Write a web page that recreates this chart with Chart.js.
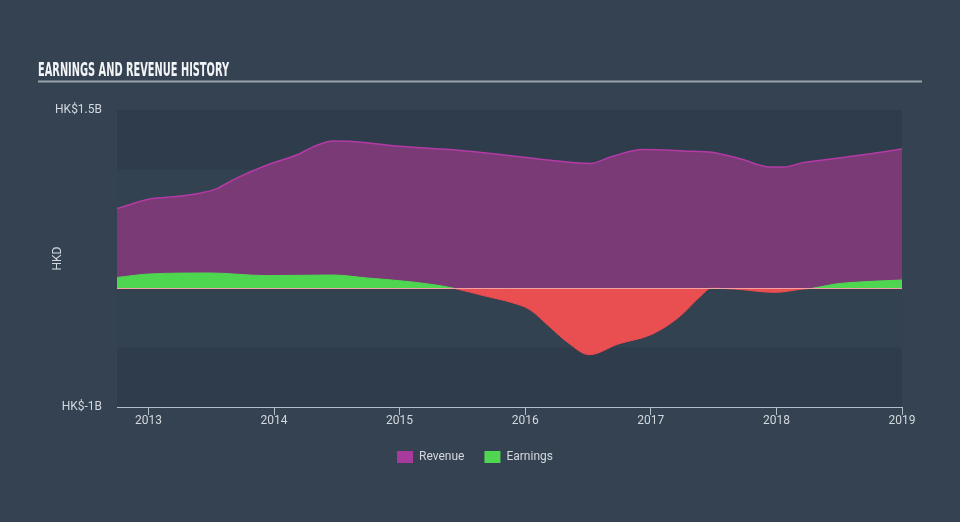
<!DOCTYPE html>
<html><head><meta charset="utf-8">
<script src="https://cdn.jsdelivr.net/npm/chart.js@4.4.0/dist/chart.umd.min.js"></script>
<style>html,body{margin:0;padding:0;background:#344251;}#wrap{position:relative;width:960px;height:522px;}</style>
</head><body><div id="wrap"><canvas id="c" width="960" height="522"></canvas></div>
<script>
const chartTitle = 'EARNINGS AND REVENUE HISTORY';
const yAxisTitle = 'HKD';
const seriesNames = ['Revenue', 'Earnings'];
const revenueYears = [2012.75, 2013.01, 2013.15, 2013.41, 2013.55, 2013.67, 2013.94, 2014.20, 2014.31, 2014.47, 2014.60, 2015.00, 2015.40, 2015.80, 2016.20, 2016.52, 2016.68, 2016.94, 2017.26, 2017.50, 2017.71, 2017.95, 2018.06, 2018.21, 2018.45, 2018.72, 2019.00];
const revenueValues = [0.67, 0.75, 0.765, 0.80, 0.84, 0.91, 1.035, 1.13, 1.19, 1.24, 1.237, 1.195, 1.167, 1.125, 1.077, 1.05, 1.105, 1.167, 1.155, 1.142, 1.09, 1.02, 1.02, 1.057, 1.09, 1.127, 1.172];
const earningsYears = [2012.75, 2013.01, 2013.49, 2013.94, 2014.47, 2014.74, 2015.00, 2015.27, 2015.43, 2015.67, 2015.89, 2016.03, 2016.20, 2016.34, 2016.51, 2016.74, 2017.01, 2017.22, 2017.40, 2017.48, 2017.67, 2017.99, 2018.21, 2018.29, 2018.47, 2018.61, 2019.00];
const earningsValues = [0.09, 0.12, 0.128, 0.106, 0.111, 0.086, 0.063, 0.03, 0.0, -0.063, -0.12, -0.176, -0.33, -0.458, -0.56, -0.47, -0.387, -0.247, -0.063, 0.0, -0.007, -0.035, -0.007, 0.0, 0.035, 0.049, 0.069];
const xTickYears = [2013, 2014, 2015, 2016, 2017, 2018, 2019];
const yTickValues = [-1, 1.5];
const yTickLabels = ['HK$-1B', 'HK$1.5B'];

const FONT = 'Roboto, "DejaVu Sans", sans-serif';
const TEXT = '#d3d8de';

const bgPlugin = {
  id: 'bg',
  afterLayout(chart) {
    if (chart.legend) { chart.legend.left += 24; chart.legend.right += 24; }
  },
  beforeDraw(chart) {
    const {ctx, chartArea: a, scales: {y}} = chart;
    ctx.save();
    ctx.fillStyle = '#334250';
    ctx.fillRect(a.left, a.top, a.right - a.left, a.bottom - a.top);
    ctx.fillStyle = '#2e3c4b';
    const y1 = y.getPixelForValue(1.0), y2 = y.getPixelForValue(-0.5);
    ctx.fillRect(a.left, a.top, a.right - a.left, y1 - a.top);
    ctx.fillRect(a.left, y2, a.right - a.left, a.bottom - y2);
    // title
    ctx.fillStyle = '#f2f4f6';
    ctx.font = 'bold 20px "DejaVu Sans Condensed", "DejaVu Sans", sans-serif';
    ctx.textBaseline = 'alphabetic';
    const w = ctx.measureText(chartTitle).width;
    ctx.translate(38, 75.5);
    ctx.scale(191 / w, 1);
    ctx.fillText(chartTitle, 0, 0);
    ctx.restore();
    ctx.save();
    ctx.strokeStyle = '#9aa3ad';
    ctx.lineWidth = 2;
    ctx.beginPath();
    ctx.moveTo(38, 81.5); ctx.lineTo(922, 81.5);
    ctx.stroke();
    ctx.restore();
  },
  afterDatasetsDraw(chart) {
    const {ctx, chartArea: a, scales: {y}} = chart;
    const y0 = Math.round(y.getPixelForValue(0)) + 0.5;
    ctx.save();
    ctx.strokeStyle = '#f2a0a4';
    ctx.lineWidth = 1;
    ctx.beginPath();
    ctx.moveTo(a.left, y0); ctx.lineTo(a.right, y0);
    ctx.stroke();
    ctx.restore();
  }
};

new Chart(document.getElementById('c'), {
  type: 'line',
  data: {
    datasets: [
      {
        label: seriesNames[0],
        data: revenueYears.map((x, i) => ({x, y: revenueValues[i]})),
        borderColor: '#b43aa6',
        borderWidth: 1.5,
        backgroundColor: '#7a3a76',
        fill: 'origin',
        pointRadius: 0,
        cubicInterpolationMode: 'monotone',
        order: 1
      },
      {
        label: seriesNames[1],
        data: earningsYears.map((x, i) => ({x, y: earningsValues[i]})),
        borderColor: '#e94a4f',
        borderWidth: 1,
        segment: {
          borderColor: c => (c.p0.parsed.y >= 0 && c.p1.parsed.y >= 0) ? '#4fd651' : '#f04a50'
        },
        backgroundColor: '#4fd651',
        fill: {target: 'origin', above: '#4fd651', below: '#e94f50'},
        pointRadius: 0,
        cubicInterpolationMode: 'monotone',
        order: 0
      }
    ]
  },
  options: {
    responsive: false,
    animation: false,
    layout: {padding: {left: 0, right: 58, top: 110, bottom: 49}},
    plugins: {
      legend: {
        position: 'bottom',
        labels: {
          boxWidth: 16, boxHeight: 12, padding: 20,
          color: TEXT, font: {family: FONT, size: 12},
          generateLabels: chart => chart.data.datasets.map((d, i) => ({
            text: d.label,
            fillStyle: ['#a8399d', '#50d651'][i],
            strokeStyle: 'rgba(0,0,0,0)',
            lineWidth: 0,
            datasetIndex: i,
            fontColor: TEXT
          }))
        }
      },
      tooltip: {enabled: false}
    },
    scales: {
      x: {
        type: 'linear',
        min: 2012.75, max: 2019,
        afterBuildTicks: s => { s.ticks = xTickYears.map(v => ({value: v})); },
        afterFit: s => { s.height = 24; },
        ticks: {
          callback: v => String(v), color: TEXT, font: {family: FONT, size: 12},
          padding: -1, maxRotation: 0, autoSkip: false
        },
        grid: {drawOnChartArea: false, drawTicks: true, tickLength: 8, color: '#b4bdc8', tickWidth: 1},
        border: {display: true, color: '#b4bdc8', width: 1}
      },
      y: {
        min: -1, max: 1.5,
        afterBuildTicks: s => { s.ticks = yTickValues.map(v => ({value: v})); },
        afterFit: s => { s.width = 117; },
        ticks: {
          callback: v => yTickLabels[yTickValues.indexOf(v)],
          color: TEXT, font: {family: FONT, size: 12}, padding: 15
        },
        grid: {display: false, drawTicks: false},
        border: {display: false},
        title: {
          display: true, text: yAxisTitle, color: TEXT,
          font: {family: FONT, size: 12}, padding: {top: 51, bottom: 0}
        }
      }
    }
  },
  plugins: [bgPlugin]
});
</script>
</body></html>
